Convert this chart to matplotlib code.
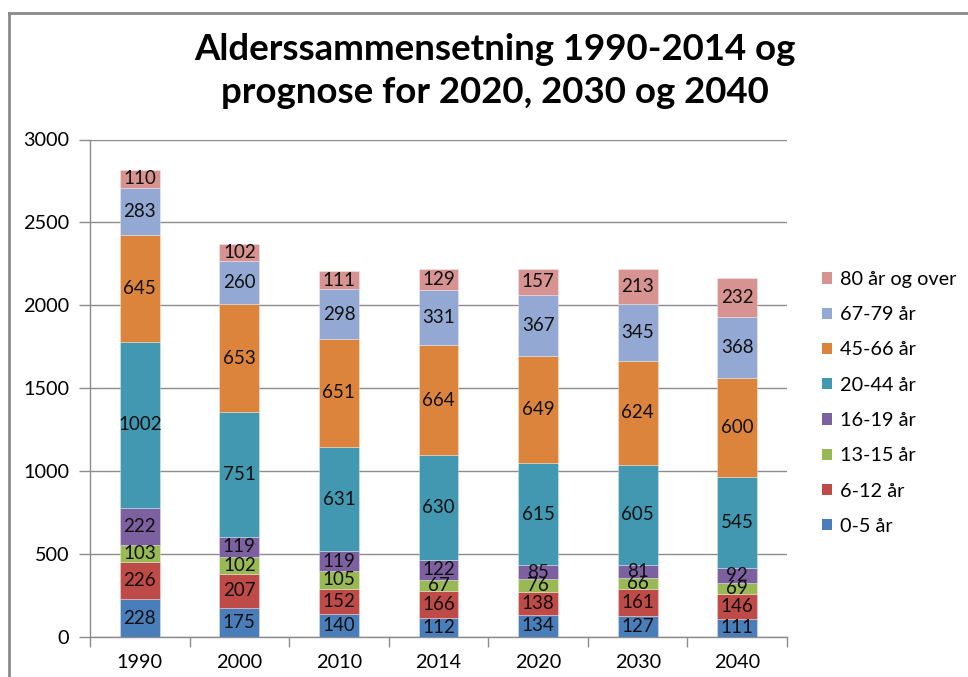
import matplotlib
matplotlib.use("Agg")
import matplotlib.pyplot as plt
from matplotlib.lines import Line2D
from matplotlib.patches import Patch
import numpy as np

plt.rcParams['font.family'] = ['Lato', 'DejaVu Sans']

years = ["1990", "2000", "2010", "2014", "2020", "2030", "2040"]
groups = ["0-5 år", "6-12 år", "13-15 år", "16-19 år", "20-44 år", "45-66 år", "67-79 år", "80 år og over"]

age_0_5 = [228, 175, 140, 112, 134, 127, 111]
age_6_12 = [226, 207, 152, 166, 138, 161, 146]
age_13_15 = [103, 102, 105, 67, 76, 66, 69]
age_16_19 = [222, 119, 119, 122, 85, 81, 92]
age_20_44 = [1002, 751, 631, 630, 615, 605, 545]
age_45_66 = [645, 653, 651, 664, 649, 624, 600]
age_67_79 = [283, 260, 298, 331, 367, 345, 368]
age_80 = [110, 102, 111, 129, 157, 213, 232]

series = [age_0_5, age_6_12, age_13_15, age_16_19, age_20_44, age_45_66, age_67_79, age_80]
colors = ["#4A7EBB", "#BE4B48", "#98B954", "#7D60A0", "#4298B0", "#DD843C", "#93A9D3", "#D69391"]

fig = plt.figure(figsize=(9.68, 6.77), dpi=100)
ax = fig.add_axes([90/968, 1-637/677, (787-90)/968, (637-139.5)/677])

x = np.arange(len(years))
bottom = np.zeros(len(years))
for vals, col, lab in zip(series, colors, groups):
    ax.bar(x, vals, width=0.4, bottom=bottom, color=col, label=lab, zorder=3,
           edgecolor=(1, 1, 1, 0.35), linewidth=0.6)
    for xi, b, v in zip(x, bottom, vals):
        ax.text(xi, b + v/2, str(v), ha='center', va='center', fontsize=13.5, color='#111111', zorder=4)
    bottom += np.array(vals)

ax.set_xlim(-0.5, len(years)-0.5)
ax.set_ylim(0, 3000)
ax.set_yticks(np.arange(0, 3001, 500))
ax.yaxis.grid(True, color='#8C8C8C', linewidth=1.0, zorder=0)
ax.set_axisbelow(True)

ax.set_xticks(x)
ax.set_xticklabels(years, fontsize=14.3)
ax.set_xticks(np.arange(-0.5, len(years), 1), minor=True)
ax.tick_params(axis='x', which='major', length=0, pad=12)
ax.tick_params(axis='x', which='minor', length=7, color='#8C8C8C', width=1)
ax.tick_params(axis='y', length=8, color='#8C8C8C', width=1, labelsize=14.3, pad=7)

for s in ['top', 'right']:
    ax.spines[s].set_visible(False)
for s in ['left', 'bottom']:
    ax.spines[s].set_color('#8C8C8C')
    ax.spines[s].set_linewidth(1)

fig.suptitle("Alderssammensetning 1990-2014 og\nprognose for 2020, 2030 og 2040",
             x=495/968, y=1-33/677, fontsize=26.4, fontweight='bold', linespacing=1.36, va='top')

handles = [Patch(facecolor=c, label=l) for c, l in zip(colors, groups)][::-1]
fig.legend(handles=handles, loc='upper left', bbox_to_anchor=(814/968, 1-263/677),
           frameon=False, fontsize=14.3, labelspacing=0.92, handlelength=0.5, handleheight=0.5,
           handletextpad=0.4, borderaxespad=0)

# outer chart frame
fig.add_artist(Line2D([9/968, 9/968], [0, 1-13/677], color='#8A8A8A', linewidth=2, transform=fig.transFigure))
fig.add_artist(Line2D([9/968, 1], [1-13/677, 1-13/677], color='#8A8A8A', linewidth=2, transform=fig.transFigure))

fig.savefig("out.png", dpi=100)
